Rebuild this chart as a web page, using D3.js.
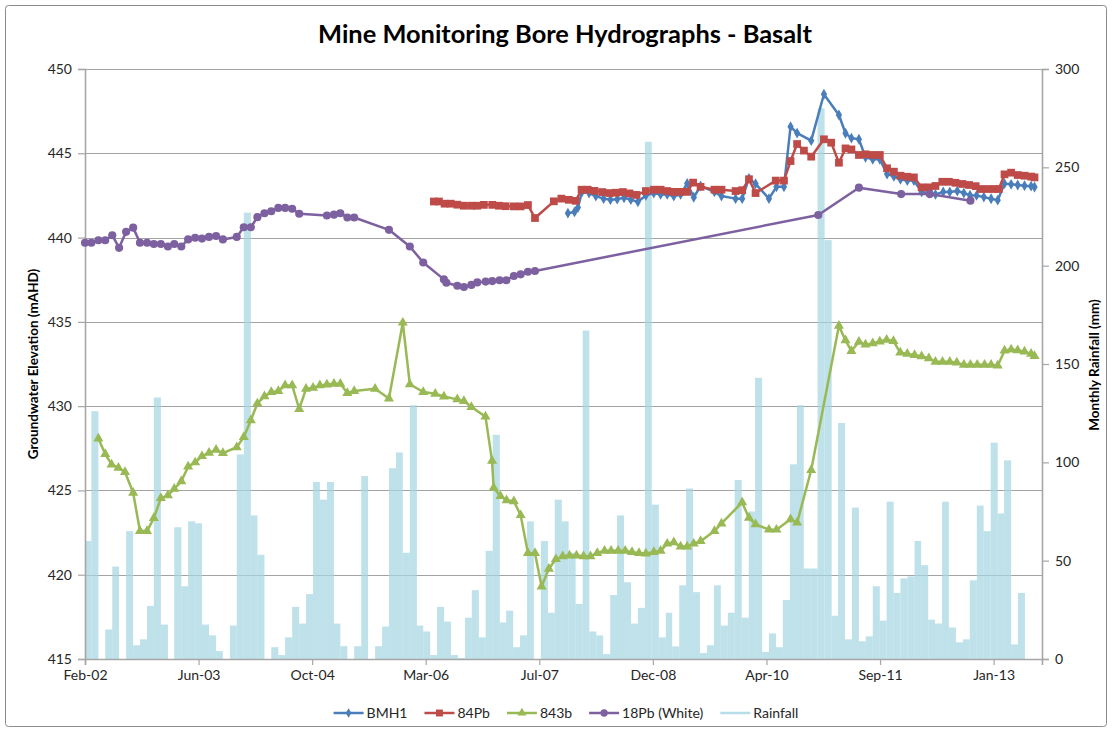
<!DOCTYPE html>
<html>
<head>
<meta charset="utf-8">
<script src="https://cdn.jsdelivr.net/npm/d3@7"></script>
<style>
  body { margin: 0; background: #fff; }
  svg { font-family: Lato, "Open Sans", sans-serif; }
</style>
</head>
<body>
<svg id="chart" width="1112" height="731"></svg>
<script>
// ---- data ----
var axis_start = "2002-02-01";
var axis_end = "2013-08-15";
var left_ticks = [415, 420, 425, 430, 435, 440, 445, 450];
var right_ticks = [0, 50, 100, 150, 200, 250, 300];
var tick_step_days = 500;

// monthly rainfall (mm), first month = Feb-02
var rainfall_mm = [60, 126, 0, 15, 47, 0, 65, 7, 10, 27, 133, 17.5,
    0, 67, 37, 70, 69, 17.5, 12, 4, 0, 17, 104, 227,
    73, 53, 0, 6, 2, 11, 26.5, 18, 33, 90, 81, 90,
    18, 6.5, 0, 6.5, 93, 0, 6.5, 16.5, 97, 105, 54, 129,
    17, 14, 2, 26.5, 19, 2, 0.5, 21, 35, 11, 55, 114,
    18.6, 24.6, 6, 12, 70, 0, 60, 23.5, 81, 70, 54, 28,
    167, 14, 12, 2.5, 32.5, 73, 39, 18, 26, 263, 78.5, 11,
    23.5, 6.4, 37.5, 86.7, 34, 3, 7, 37.5, 17, 23.5, 91, 21,
    75, 143, 3.6, 13, 6, 30, 99, 129, 46, 46, 280, 213,
    22, 120, 10, 77, 9, 11.5, 37, 19.5, 80, 33.6, 41, 42,
    60, 47.7, 20, 18, 80, 16, 8.5, 10, 40, 78, 65, 110,
    74, 101, 7.4, 33.6];

var bmh1_dates = ["2007-11-28", "2007-12-27", "2008-01-11", "2008-01-29", "2008-02-29", "2008-03-30",
    "2008-05-03", "2008-06-02", "2008-07-02", "2008-08-01", "2008-08-31", "2008-10-01", "2008-11-05",
    "2008-12-10", "2009-01-09", "2009-02-07", "2009-03-08", "2009-04-07", "2009-05-06", "2009-06-04",
    "2009-07-04", "2009-09-03", "2009-10-04", "2009-12-05", "2010-01-03", "2010-02-02", "2010-03-03",
    "2010-05-01", "2010-06-03", "2010-07-06", "2010-08-04", "2010-09-02", "2010-11-03", "2010-12-29",
    "2011-03-05", "2011-04-03", "2011-04-29", "2011-06-01", "2011-06-30", "2011-08-01", "2011-09-01",
    "2011-10-03", "2011-11-02", "2011-12-01", "2011-12-31", "2012-01-29", "2012-03-03", "2012-04-04",
    "2012-05-03", "2012-06-06", "2012-07-05", "2012-08-07", "2012-09-05", "2012-10-02", "2012-10-31",
    "2012-12-02", "2013-01-03", "2013-02-01", "2013-03-03", "2013-04-01", "2013-04-30", "2013-05-30",
    "2013-06-28", "2013-07-13"];
var bmh1_levels = [441.45, 441.52, 441.78, 442.72, 442.64, 442.46,
    442.31, 442.25, 442.28, 442.36, 442.25, 442.12, 442.5,
    442.64, 442.56, 442.56, 442.46, 442.56, 443.21, 442.39,
    443.06, 442.71, 442.46, 442.31, 442.31, 443.51, 443.19,
    442.31, 443.01, 443.01, 446.58, 446.2, 445.75, 448.5,
    447.27, 446.19, 445.9, 445.83, 444.76, 444.64, 444.64,
    443.77, 443.63, 443.46, 443.38, 443.38, 442.71, 442.64,
    442.56, 442.71, 442.71, 442.76, 442.64, 442.51, 442.5,
    442.4, 442.3, 442.22, 443.2, 443.16, 443.12, 443.08,
    443.05, 443.0];

var pb84_dates = ["2006-04-17", "2006-05-09", "2006-06-03", "2006-06-30", "2006-07-29", "2006-08-27",
    "2006-09-29", "2006-10-25", "2006-11-23", "2006-12-30", "2007-01-28", "2007-02-27", "2007-04-04",
    "2007-05-04", "2007-06-05", "2007-07-06", "2007-09-27", "2007-10-30", "2007-12-02", "2008-01-01",
    "2008-01-27", "2008-02-23", "2008-03-24", "2008-04-27", "2008-05-29", "2008-06-27", "2008-07-27",
    "2008-08-25", "2008-09-25", "2008-11-05", "2008-12-10", "2009-01-09", "2009-02-07", "2009-03-08",
    "2009-04-07", "2009-05-06", "2009-06-01", "2009-07-04", "2009-09-03", "2009-10-04", "2009-12-05",
    "2010-01-03", "2010-02-02", "2010-03-03", "2010-05-31", "2010-07-06", "2010-08-04", "2010-09-02",
    "2010-10-02", "2010-11-03", "2010-12-29", "2011-01-30", "2011-03-05", "2011-04-03", "2011-04-29",
    "2011-06-01", "2011-06-30", "2011-08-01", "2011-09-01", "2011-10-03", "2011-11-02", "2011-12-01",
    "2011-12-31", "2012-01-29", "2012-03-03", "2012-04-04", "2012-05-03", "2012-06-02", "2012-07-01",
    "2012-07-30", "2012-08-29", "2012-09-28", "2012-10-27", "2012-11-18", "2012-12-18", "2013-01-15",
    "2013-02-06", "2013-03-03", "2013-04-01", "2013-04-30", "2013-05-30", "2013-06-28", "2013-07-13"];
var pb84_levels = [442.14, 442.14, 442.01, 442.01, 441.95, 441.89,
    441.89, 441.89, 441.94, 441.94, 441.89, 441.86, 441.85,
    441.85, 441.93, 441.16, 442.15, 442.31, 442.24, 442.18,
    442.84, 442.84, 442.77, 442.7, 442.64, 442.66, 442.7,
    442.62, 442.53, 442.76, 442.84, 442.84, 442.76, 442.71,
    442.71, 442.71, 443.26, 443.01, 442.84, 442.84, 442.76,
    442.81, 443.46, 442.64, 443.38, 443.38, 444.54, 445.55,
    445.16, 444.8, 445.83, 445.63, 444.44, 445.29, 445.23,
    444.9, 444.94, 444.9, 444.9, 444.11, 443.91, 443.67,
    443.61, 443.57, 442.98, 442.98, 443.06, 443.31, 443.31,
    443.25, 443.18, 443.12, 443.05, 442.88, 442.88, 442.88,
    442.88, 443.75, 443.85, 443.71, 443.67, 443.62, 443.57];

var b843_dates = ["2002-04-01", "2002-05-01", "2002-05-29", "2002-06-28", "2002-07-27", "2002-09-01",
    "2002-10-01", "2002-11-01", "2002-12-01", "2003-01-01", "2003-02-01", "2003-03-01", "2003-04-01",
    "2003-05-01", "2003-06-01", "2003-07-01", "2003-08-01", "2003-09-01", "2003-10-01", "2003-12-01",
    "2004-01-01", "2004-02-01", "2004-03-01", "2004-04-01", "2004-05-01", "2004-06-01", "2004-07-01",
    "2004-08-01", "2004-09-01", "2004-10-01", "2004-11-01", "2004-12-01", "2005-01-01", "2005-02-01",
    "2005-03-01", "2005-04-01", "2005-05-01", "2005-08-01", "2005-10-01", "2005-12-01", "2006-01-01",
    "2006-03-01", "2006-04-23", "2006-05-31", "2006-07-29", "2006-08-27", "2006-09-29", "2006-11-30",
    "2006-12-29", "2007-01-05", "2007-02-04", "2007-03-03", "2007-04-04", "2007-05-04", "2007-06-05",
    "2007-07-06", "2007-08-04", "2007-09-05", "2007-10-06", "2007-11-05", "2007-12-05", "2008-01-05",
    "2008-02-05", "2008-03-06", "2008-04-05", "2008-05-07", "2008-06-05", "2008-07-06", "2008-08-06",
    "2008-09-05", "2008-10-06", "2008-11-05", "2008-12-10", "2009-01-09", "2009-02-07", "2009-03-08",
    "2009-04-07", "2009-05-06", "2009-06-04", "2009-07-04", "2009-09-03", "2009-10-04", "2010-01-03",
    "2010-02-02", "2010-03-03", "2010-05-01", "2010-06-03", "2010-08-04", "2010-09-02", "2010-11-03",
    "2011-03-05", "2011-04-03", "2011-04-29", "2011-06-01", "2011-06-30", "2011-08-01", "2011-09-01",
    "2011-10-01", "2011-10-31", "2011-11-30", "2011-12-31", "2012-02-01", "2012-03-03", "2012-04-04",
    "2012-05-03", "2012-06-03", "2012-07-05", "2012-08-05", "2012-09-05", "2012-10-04", "2012-11-03",
    "2012-12-05", "2013-01-03", "2013-02-01", "2013-03-03", "2013-04-01", "2013-04-30", "2013-05-30",
    "2013-06-28", "2013-07-13"];
var b843_levels = [428.08, 427.16, 426.54, 426.34, 426.09, 424.86,
    422.59, 422.59, 423.36, 424.54, 424.71, 425.09, 425.54,
    426.41, 426.66, 427.03, 427.23, 427.41, 427.21, 427.56,
    428.16, 429.16, 430.16, 430.58, 430.83, 430.9, 431.23,
    431.23, 429.83, 431.03, 431.08, 431.23, 431.28, 431.33,
    431.33, 430.78, 430.9, 431.03, 430.45, 434.95, 431.3,
    430.84, 430.73, 430.57, 430.4, 430.3, 429.95, 429.38,
    426.75, 425.16, 424.66, 424.41, 424.36, 423.53, 421.28,
    421.28, 419.3, 420.35, 420.92, 421.09, 421.14, 421.14,
    421.09, 421.09, 421.29, 421.42, 421.42, 421.42, 421.42,
    421.34, 421.29, 421.26, 421.34, 421.42, 421.84, 421.92,
    421.67, 421.67, 421.84, 421.99, 422.59, 423.04, 424.29,
    423.37, 422.99, 422.67, 422.67, 423.29, 423.09, 426.21,
    434.77, 433.9, 433.27, 433.82, 433.65, 433.72, 433.83,
    433.94, 433.86, 433.18, 433.1, 433.03, 432.95, 432.84,
    432.63, 432.63, 432.63, 432.58, 432.45, 432.45, 432.45,
    432.45, 432.45, 432.4, 433.29, 433.36, 433.31, 433.23,
    433.1, 432.97];

var pb18_dates = ["2002-02-01", "2002-03-01", "2002-04-01", "2002-05-01", "2002-06-01", "2002-07-01",
    "2002-08-01", "2002-09-01", "2002-10-01", "2002-11-01", "2002-12-01", "2003-01-01", "2003-02-01",
    "2003-03-01", "2003-04-01", "2003-05-01", "2003-06-01", "2003-07-01", "2003-08-01", "2003-09-01",
    "2003-10-01", "2003-12-01", "2004-01-01", "2004-02-01", "2004-03-01", "2004-04-01", "2004-05-01",
    "2004-06-01", "2004-07-01", "2004-08-01", "2004-09-01", "2005-01-01", "2005-02-01", "2005-03-01",
    "2005-04-01", "2005-05-01", "2005-10-01", "2006-01-01", "2006-03-01", "2006-05-31", "2006-06-11",
    "2006-07-29", "2006-08-27", "2006-09-29", "2006-10-25", "2006-12-01", "2006-12-30", "2007-01-31",
    "2007-03-02", "2007-04-04", "2007-05-04", "2007-06-05", "2007-07-06", "2010-12-04", "2011-06-01",
    "2011-12-04", "2012-04-08", "2012-10-04"];
var pb18_levels = [439.69, 439.69, 439.84, 439.84, 440.14, 439.39,
    440.34, 440.59, 439.69, 439.69, 439.62, 439.62, 439.47,
    439.62, 439.47, 439.89, 439.99, 439.94, 440.04, 440.09,
    439.89, 440.04, 440.61, 440.61, 441.21, 441.44, 441.56,
    441.76, 441.76, 441.71, 441.41, 441.31, 441.36, 441.44,
    441.19, 441.19, 440.46, 439.47, 438.52, 437.52, 437.32,
    437.14, 437.07, 437.19, 437.34, 437.39, 437.42, 437.47,
    437.47, 437.72, 437.82, 437.97, 438.02, 441.34, 442.96,
    442.58, 442.58, 442.19];

var series_names = ["BMH1", "84Pb", "843b", "18Pb (White)"];
var series_colors = ["#4A7EBB", "#BE4B48", "#98B954", "#7D60A0"];
var rain_color = "#A5D5E2";

// ---- layout ----
var width = 1112, height = 731;
var plot_left = 85, plot_right = 1042, plot_top = 69, plot_bottom = 659;
var parse_date = d3.timeParse("%Y-%m-%d");
var start_date = parse_date(axis_start);

var svg = d3.select("#chart");

// chart area border
svg.append("rect")
    .attr("x", 5.5).attr("y", 5.5)
    .attr("width", width - 11).attr("height", height - 10)
    .attr("rx", 3)
    .attr("fill", "#fff")
    .attr("stroke", "#8c8c8c")
    .attr("stroke-width", 1);

var x = d3.scaleTime()
    .domain([start_date, parse_date(axis_end)])
    .range([plot_left, plot_right]);
var y = d3.scaleLinear().domain([415, 450]).range([plot_bottom, plot_top]);
var y_rain = d3.scaleLinear().domain([0, 300]).range([plot_bottom, plot_top]);

// gridlines (from the left axis)
svg.append("g").selectAll("line")
    .data(left_ticks)
    .enter().append("line")
    .attr("x1", plot_left).attr("x2", plot_right)
    .attr("y1", function (d) { return Math.round(y(d)) + 0.5; })
    .attr("y2", function (d) { return Math.round(y(d)) + 0.5; })
    .attr("stroke", "#a3a3a3")
    .attr("stroke-width", 1);

// rainfall columns, one per month
var rain_months = d3.timeMonth.range(start_date, d3.timeMonth.offset(start_date, rainfall_mm.length + 1));
svg.append("g").selectAll("rect")
    .data(rainfall_mm)
    .enter().append("rect")
    .attr("x", function (d, i) { return x(rain_months[i]); })
    .attr("width", function (d, i) { return x(rain_months[i + 1]) - x(rain_months[i]); })
    .attr("y", function (d) { return y_rain(d); })
    .attr("height", function (d) { return plot_bottom - y_rain(d); })
    .attr("fill", rain_color)
    .attr("fill-opacity", 0.72);

// axes
var x_tick_values = d3.range(0, 4001, tick_step_days).map(function (d) { return d3.timeDay.offset(start_date, d); });

var x_axis = svg.append("g")
    .attr("transform", "translate(0," + plot_bottom + ")")
    .call(d3.axisBottom(x).tickValues(x_tick_values).tickFormat(d3.timeFormat("%b-%y")).tickSize(6).tickPadding(5));

var y_axis = svg.append("g")
    .attr("transform", "translate(" + plot_left + ",0)")
    .call(d3.axisLeft(y).tickValues(left_ticks).tickFormat(d3.format("d")).tickSize(7).tickPadding(6));

var y_rain_axis = svg.append("g")
    .attr("transform", "translate(" + plot_right + ",0)")
    .call(d3.axisRight(y_rain).tickValues(right_ticks).tickFormat(d3.format("d")).tickSize(7).tickPadding(6));

[x_axis, y_axis, y_rain_axis].forEach(function (ax) {
    ax.select(".domain").attr("stroke", "#a6a6a6").attr("stroke-width", 1.6);
    ax.selectAll(".tick line").attr("stroke", "#a6a6a6").attr("stroke-width", 1.2);
    ax.selectAll("text")
        .style("font-family", "Lato, 'Open Sans', sans-serif")
        .style("font-size", "14px")
        .attr("fill", "#262626");
});

// groundwater series
var all_dates = [bmh1_dates, pb84_dates, b843_dates, pb18_dates];
var all_levels = [bmh1_levels, pb84_levels, b843_levels, pb18_levels];
var marker_types = [d3.symbolDiamond, d3.symbolSquare, d3.symbolTriangle, d3.symbolCircle];
var marker_sizes = [34, 60, 44, 52];

var line_gen = d3.line()
    .x(function (d) { return x(d.date); })
    .y(function (d) { return y(d.level); });

all_dates.forEach(function (dates, s) {
    var points = dates.map(function (d, i) { return { date: parse_date(d), level: all_levels[s][i] }; });
    var g = svg.append("g").attr("class", "series-" + s);
    g.append("path")
        .datum(points)
        .attr("d", line_gen)
        .attr("fill", "none")
        .attr("stroke", series_colors[s])
        .attr("stroke-width", 2.5)
        .attr("stroke-linejoin", "round");
    g.selectAll("path.marker")
        .data(points)
        .enter().append("path")
        .attr("class", "marker")
        .attr("transform", function (d) { return "translate(" + x(d.date) + "," + y(d.level) + ")"; })
        .attr("d", d3.symbol().type(marker_types[s]).size(marker_sizes[s]))
        .attr("fill", series_colors[s]);
});

// title
svg.append("text")
    .attr("x", 565).attr("y", 43)
    .attr("text-anchor", "middle")
    .style("font-family", "Lato, 'Open Sans', sans-serif")
    .style("font-weight", "bold")
    .style("font-size", "25.4px")
    .attr("fill", "#000")
    .text("Mine Monitoring Bore Hydrographs - Basalt");

// axis titles
svg.append("text")
    .attr("transform", "translate(38,364) rotate(-90)")
    .attr("text-anchor", "middle")
    .style("font-weight", "bold")
    .style("font-size", "13.5px")
    .attr("fill", "#000")
    .text("Groundwater Elevation (mAHD)");

svg.append("text")
    .attr("transform", "translate(1099,365) rotate(-90)")
    .attr("text-anchor", "middle")
    .style("font-weight", "bold")
    .style("font-size", "13.5px")
    .attr("fill", "#000")
    .text("Monthly Rainfall (mm)");

// legend
var legend_names = series_names.concat(["Rainfall"]);
var legend_colors = series_colors.concat(["#B7DDE8"]);
var legend_y = 713;
var legend = svg.append("g");
var legend_x = 0;
legend_names.forEach(function (name, i) {
    var item = legend.append("g").attr("transform", "translate(" + legend_x + ",0)");
    item.append("line")
        .attr("x1", 0).attr("x2", 30)
        .attr("y1", legend_y).attr("y2", legend_y)
        .attr("stroke", legend_colors[i])
        .attr("stroke-width", 2.5);
    if (i < 4) {
        item.append("path")
            .attr("transform", "translate(15," + legend_y + ")")
            .attr("d", d3.symbol().type(marker_types[i]).size(marker_sizes[i] * 0.8))
            .attr("fill", legend_colors[i]);
    }
    var label = item.append("text")
        .attr("x", 33).attr("y", legend_y + 5)
        .style("font-size", "14px")
        .attr("fill", "#262626")
        .text(name);
    legend_x += 33 + label.node().getComputedTextLength() + 17;
});
var legend_width = legend_x - 17;
legend.attr("transform", "translate(" + (566 - legend_width / 2) + ",0)");
</script>
</body>
</html>
